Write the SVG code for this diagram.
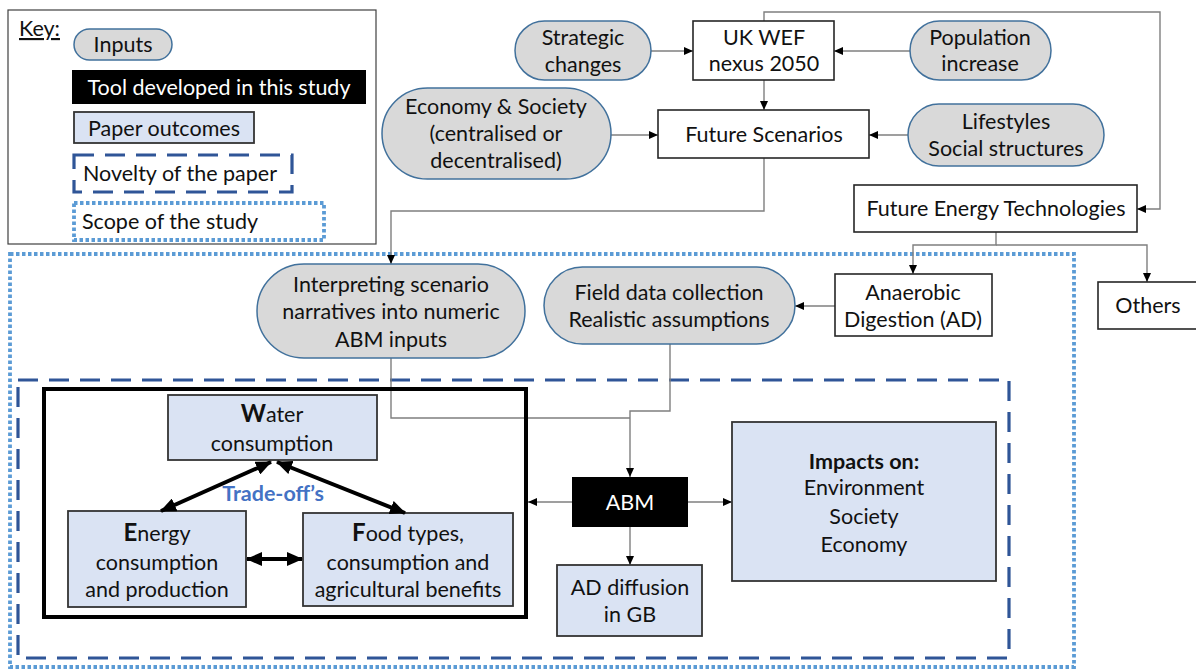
<svg xmlns="http://www.w3.org/2000/svg" width="1196" height="670" viewBox="0 0 1196 670">
<defs>
<style>
text{font-family:Lato,"Liberation Sans",sans-serif;font-size:21.5px;fill:#111;text-anchor:middle}
.pill{fill:#d9d9d9;stroke:#41719c;stroke-width:1.5}
.box{fill:#fff;stroke:#262626;stroke-width:1.6}
.out{fill:#dae3f3;stroke:#333;stroke-width:1.8}
.conn{fill:none;stroke:#7f7f7f;stroke-width:1.4}
.thick{fill:none;stroke:#000;stroke-width:4}
.nov{fill:none;stroke:#2f5597;stroke-width:3.2;stroke-dasharray:20 11}
.scope{fill:none;stroke:#5b9bd5;stroke-width:3.8;stroke-dasharray:3.5 2.5}
.b{font-weight:bold}
.big{font-weight:bold;font-size:24px}
</style>
<marker id="ah" markerUnits="userSpaceOnUse" markerWidth="9" markerHeight="8" refX="9" refY="4" orient="auto"><path d="M0,0 L9,4 L0,8 z" fill="#000"/></marker>
<marker id="th" markerUnits="userSpaceOnUse" markerWidth="16" markerHeight="14" refX="15" refY="7" orient="auto-start-reverse"><path d="M0,0 L16,7 L0,14 z" fill="#000"/></marker>
</defs>
<rect width="1196" height="670" fill="#fff"/>

<g id="key">
<rect x="8" y="10" width="368" height="234" fill="#fff" stroke="#404040" stroke-width="1.2"/>
<text x="19" y="36" style="text-anchor:start" text-decoration="underline">Key:</text>
<rect x="74" y="29" width="98" height="31" rx="15.5" class="pill"/>
<text x="123" y="52">Inputs</text>
<rect x="72" y="70" width="294" height="34" fill="#000"/>
<text x="219" y="95" style="fill:#fff">Tool developed in this study</text>
<rect x="74" y="112" width="180" height="31" class="out"/>
<text x="164" y="136">Paper outcomes</text>
<rect x="74" y="155" width="218" height="37" class="nov"/>
<text x="180" y="181">Novelty of the paper</text>
<rect x="74" y="203" width="250" height="37" class="scope"/>
<text x="170" y="229">Scope of the study</text>
</g>

<g id="scope-frame"><rect x="10" y="254" width="1064" height="413" class="scope"/></g>
<g id="novelty-frame"><rect x="18" y="380" width="991" height="278" class="nov"/></g>

<g id="connectors">
<path d="M650,51 H693" class="conn" marker-end="url(#ah)"/>
<path d="M910,51 H834" class="conn" marker-end="url(#ah)"/>
<path d="M764,80 V110" class="conn" marker-end="url(#ah)"/>
<path d="M611,135 H658" class="conn" marker-end="url(#ah)"/>
<path d="M908,135 H869" class="conn" marker-end="url(#ah)"/>
<path d="M764,21 V12 H1160 V209 H1137" class="conn" marker-end="url(#ah)"/>
<path d="M996,232 V245 H913 V274" class="conn" marker-end="url(#ah)"/>
<path d="M996,245 H1147 V282" class="conn" marker-end="url(#ah)"/>
<path d="M764,158 V211 H391 V264" class="conn" marker-end="url(#ah)"/>
<path d="M835,306 H795" class="conn" marker-end="url(#ah)"/>
<path d="M391,358 V418 H630" class="conn"/>
<path d="M670,344 V411 H630 V477" class="conn" marker-end="url(#ah)"/>
<path d="M572,502 H528" class="conn" marker-end="url(#ah)"/>
<path d="M688,502 H732" class="conn" marker-end="url(#ah)"/>
<path d="M630,527 V565" class="conn" marker-end="url(#ah)"/>
</g>

<g id="strategic"><rect x="515" y="21" width="136" height="59" rx="29.5" class="pill"/><text x="583" y="45">Strategic</text><text x="583" y="72">changes</text></g>
<g id="ukwef"><rect x="693" y="21" width="141" height="59" class="box"/><text x="764" y="45">UK WEF</text><text x="764" y="71">nexus 2050</text></g>
<g id="population"><rect x="910" y="21" width="141" height="59" rx="29.5" class="pill"/><text x="980" y="45">Population</text><text x="980" y="71">increase</text></g>
<g id="economy"><rect x="382" y="88" width="229" height="91" rx="45.5" class="pill"/><text x="496" y="114">Economy &amp; Society</text><text x="496" y="141">(centralised or</text><text x="496" y="168">decentralised)</text></g>
<g id="future-scenarios"><rect x="658" y="110" width="211" height="48" class="box"/><text x="764" y="142">Future Scenarios</text></g>
<g id="lifestyles"><rect x="908" y="104" width="196" height="62" rx="31" class="pill"/><text x="1006" y="129">Lifestyles</text><text x="1006" y="156">Social structures</text></g>
<g id="fet"><rect x="854" y="185" width="283" height="47" class="box"/><text x="996" y="216">Future Energy Technologies</text></g>
<g id="others"><rect x="1098" y="282" width="110" height="47" class="box"/><text x="1148" y="313">Others</text></g>
<g id="ad"><rect x="835" y="274" width="157" height="62" class="box"/><text x="913" y="300">Anaerobic</text><text x="913" y="327">Digestion (AD)</text></g>
<g id="field"><rect x="544" y="267" width="251" height="77" rx="38.5" class="pill"/><text x="669" y="300">Field data collection</text><text x="669" y="327">Realistic assumptions</text></g>
<g id="interpreting"><rect x="257" y="264" width="268" height="94" rx="47" class="pill"/><text x="391" y="292">Interpreting scenario</text><text x="391" y="319">narratives into numeric</text><text x="391" y="347">ABM inputs</text></g>

<g id="wef-tool">
<rect x="44" y="389" width="482" height="228" fill="none" stroke="#000" stroke-width="4"/>
</g>
<g id="water"><rect x="168" y="395" width="209" height="65" class="out"/><text x="272" y="422"><tspan class="big">W</tspan>ater</text><text x="272" y="451">consumption</text></g>
<g id="energy"><rect x="68" y="511" width="178" height="96" class="out"/><text x="157" y="541"><tspan class="big">E</tspan>nergy</text><text x="157" y="570">consumption</text><text x="157" y="597">and production</text></g>
<g id="food"><rect x="303" y="513" width="210" height="93" class="out"/><text x="408" y="541"><tspan class="big">F</tspan>ood types,</text><text x="408" y="570">consumption and</text><text x="408" y="597">agricultural benefits</text></g>
<g id="tradeoff-arrows">
<path d="M271,462 L161,511" class="thick" marker-start="url(#th)" marker-end="url(#th)"/>
<path d="M277,462 L405,513" class="thick" marker-start="url(#th)" marker-end="url(#th)"/>
<path d="M247,559 H302" class="thick" marker-start="url(#th)" marker-end="url(#th)"/>
<text x="273" y="501" class="b" style="fill:#4472c4">Trade-off’s</text>
</g>
<g id="abm"><rect x="572" y="477" width="116" height="50" fill="#000"/><text x="630" y="510" style="fill:#fff">ABM</text></g>
<g id="impacts"><rect x="732" y="422" width="264" height="159" class="out"/><text x="864" y="469" class="b">Impacts on:</text><text x="864" y="495">Environment</text><text x="864" y="524">Society</text><text x="864" y="552">Economy</text></g>
<g id="ad-diffusion"><rect x="557" y="565" width="145" height="71" class="out"/><text x="630" y="595">AD diffusion</text><text x="630" y="622">in GB</text></g>
</svg>
